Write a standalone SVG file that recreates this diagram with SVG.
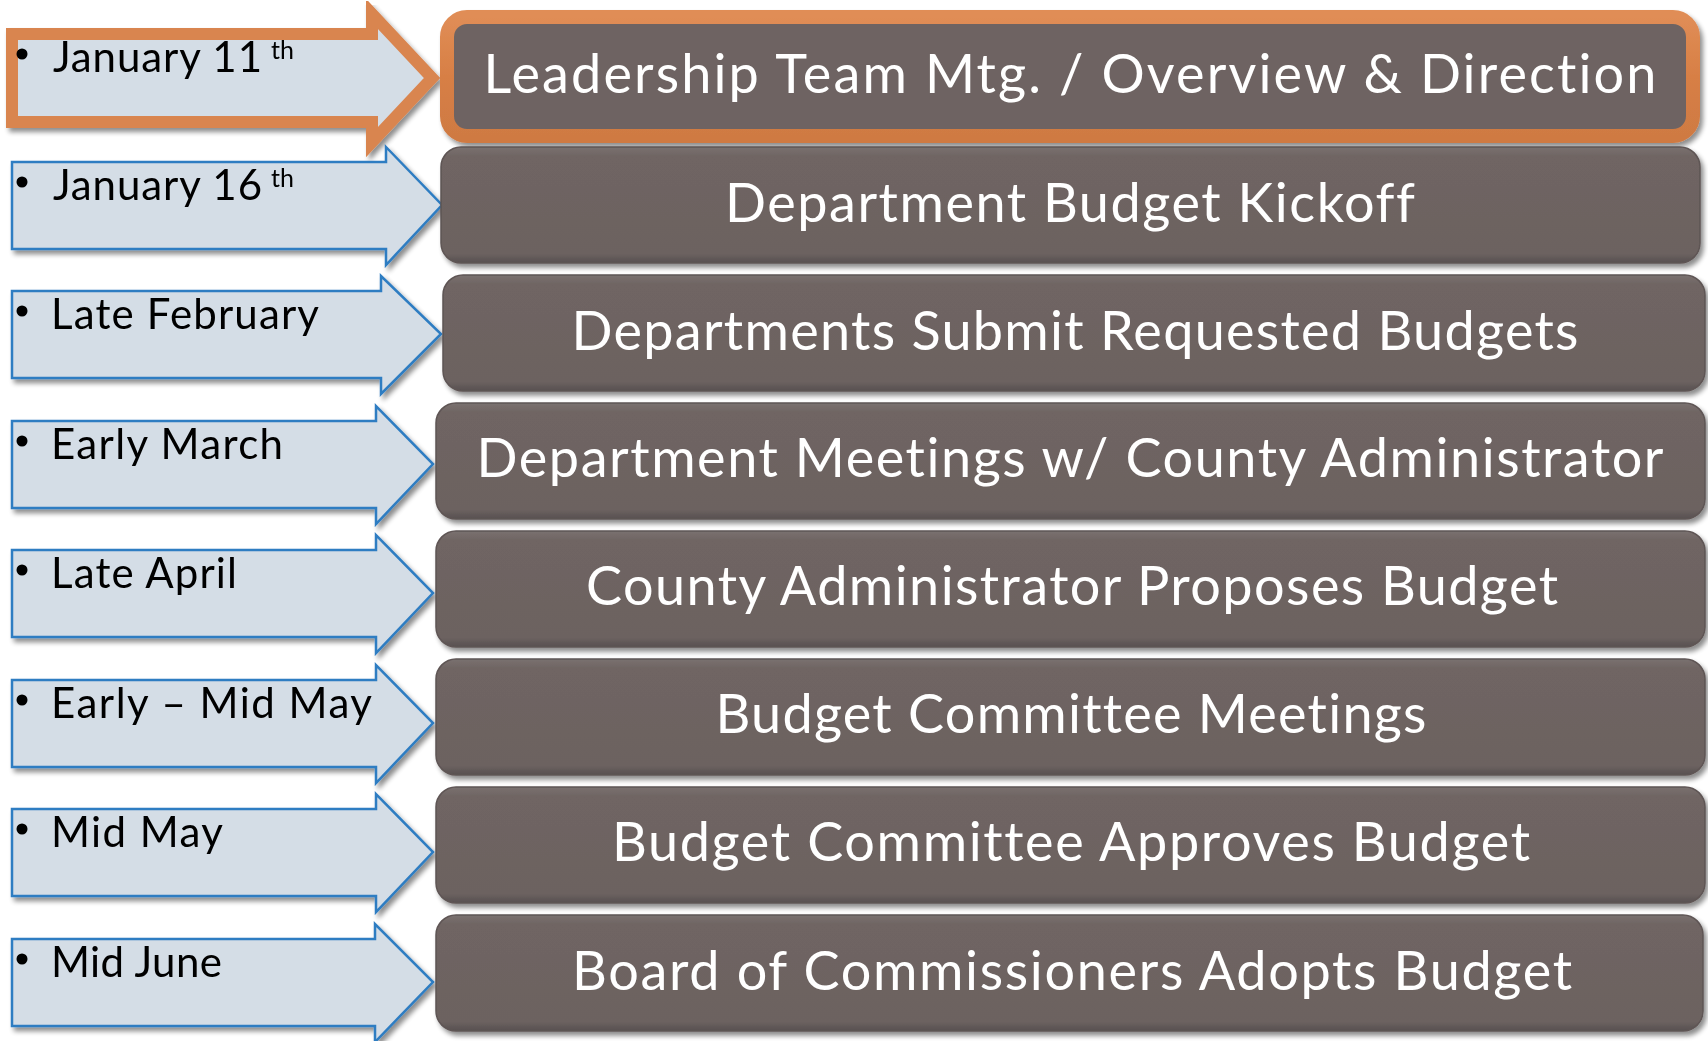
<svg xmlns="http://www.w3.org/2000/svg" width="1708" height="1041" viewBox="0 0 1708 1041">
<defs>
<filter id="sh" x="-5%" y="-10%" width="115%" height="130%">
<feGaussianBlur in="SourceAlpha" stdDeviation="2.5"/>
<feOffset dx="3" dy="4" result="b"/>
<feComponentTransfer><feFuncA type="linear" slope="0.45"/></feComponentTransfer>
<feMerge><feMergeNode/><feMergeNode in="SourceGraphic"/></feMerge>
</filter>
<linearGradient id="bev" x1="0" y1="0" x2="0" y2="1">
<stop offset="0" stop-color="#7a7170"/>
<stop offset="0.08" stop-color="#6f6563"/>
<stop offset="0.92" stop-color="#6c6260"/>
<stop offset="1" stop-color="#575050"/>
</linearGradient>
<linearGradient id="org" x1="0" y1="0" x2="0" y2="1">
<stop offset="0" stop-color="#e08d56"/>
<stop offset="0.5" stop-color="#d77f45"/>
<stop offset="1" stop-color="#cf7a43"/>
</linearGradient>
</defs>
<style>
text{font-variant-ligatures:none}
.arr{fill:#d4dde6;stroke:#2f7dc2;stroke-width:2.5;stroke-linejoin:miter}
.arr1{fill:#d4dde6;stroke:#d9854f;stroke-width:12;stroke-linejoin:miter}
.box{fill:url(#bev);stroke:#5e5554;stroke-width:1.5}
.lbl{font-family:Lato,"Liberation Sans",sans-serif;font-size:42px;fill:#000}
.sup{font-family:Lato,"Liberation Sans",sans-serif;font-size:25px;fill:#000}
.btxt{font-family:Lato,"Liberation Sans",sans-serif;font-size:54px;fill:#fff;text-anchor:middle}
.dot{fill:#000}
</style>
<g id="connectors">
<g id="arrow1" filter="url(#sh)">
<polygon class="arr1" points="12,34 372,34 372,14 432,78 372,142 372,122 12,122"/>
<circle class="dot" cx="22" cy="54" r="5.5"/>
<text class="lbl" x="53" y="72" textLength="209">January 11</text>
<text class="sup" x="271" y="59">th</text>
</g>
<g id="arrow2" filter="url(#sh)">
<polygon class="arr" points="12,162 386,162 386,147 442,205 386,265 386,249 12,249"/>
<circle class="dot" cx="22" cy="182" r="5.5"/>
<text class="lbl" x="53" y="200" textLength="209">January 16</text>
<text class="sup" x="271" y="187">th</text>
</g>
<g id="arrow3" filter="url(#sh)">
<polygon class="arr" points="12,291 381,291 381,276 441,334 381,394 381,378 12,378"/>
<circle class="dot" cx="22" cy="311" r="5.5"/>
<text class="lbl" x="51" y="329" textLength="268">Late February</text>
</g>
<g id="arrow4" filter="url(#sh)">
<polygon class="arr" points="12,421 376,421 376,406 433,464 376,524 376,508 12,508"/>
<circle class="dot" cx="22" cy="441" r="5.5"/>
<text class="lbl" x="51" y="459" textLength="232">Early March</text>
</g>
<g id="arrow5" filter="url(#sh)">
<polygon class="arr" points="12,550 376,550 376,535 433,593 376,653 376,637 12,637"/>
<circle class="dot" cx="22" cy="570" r="5.5"/>
<text class="lbl" x="51" y="588" textLength="186">Late April</text>
</g>
<g id="arrow6" filter="url(#sh)">
<polygon class="arr" points="12,680 376,680 376,665 433,723 376,783 376,767 12,767"/>
<circle class="dot" cx="22" cy="700" r="5.5"/>
<text class="lbl" x="51" y="718" textLength="321">Early – Mid May</text>
</g>
<g id="arrow7" filter="url(#sh)">
<polygon class="arr" points="12,809 376,809 376,794 433,852 376,912 376,896 12,896"/>
<circle class="dot" cx="22" cy="829" r="5.5"/>
<text class="lbl" x="51" y="847" textLength="172">Mid May</text>
</g>
<g id="arrow8" filter="url(#sh)">
<polygon class="arr" points="12,939 375,939 375,924 433,982 375,1042 375,1026 12,1026"/>
<circle class="dot" cx="22" cy="959" r="5.5"/>
<text class="lbl" x="51" y="977" textLength="171">Mid June</text>
</g>
</g>
<g id="box1" filter="url(#sh)">
<rect x="447" y="17" width="1246" height="119" rx="20" fill="#6e6462" stroke="url(#org)" stroke-width="14"/>
<text class="btxt" x="1070" y="93" textLength="1173">Leadership Team Mtg. / Overview &amp; Direction</text>
</g>
<g id="box2" filter="url(#sh)">
<rect class="box" x="441" y="147" width="1259" height="116" rx="20"/>
<text class="btxt" x="1070" y="222" textLength="690">Department Budget Kickoff</text>
</g>
<g id="box3" filter="url(#sh)">
<rect class="box" x="443" y="275" width="1262" height="116" rx="20"/>
<text class="btxt" x="1075" y="350" textLength="1007">Departments Submit Requested Budgets</text>
</g>
<g id="box4" filter="url(#sh)">
<rect class="box" x="436" y="403" width="1269" height="116" rx="20"/>
<text class="btxt" x="1070" y="477" textLength="1187">Department Meetings w/ County Administrator</text>
</g>
<g id="box5" filter="url(#sh)">
<rect class="box" x="436" y="531" width="1269" height="116" rx="20"/>
<text class="btxt" x="1072" y="605" textLength="972">County Administrator Proposes Budget</text>
</g>
<g id="box6" filter="url(#sh)">
<rect class="box" x="436" y="659" width="1269" height="116" rx="20"/>
<text class="btxt" x="1071" y="733" textLength="711">Budget Committee Meetings</text>
</g>
<g id="box7" filter="url(#sh)">
<rect class="box" x="436" y="787" width="1269" height="116" rx="20"/>
<text class="btxt" x="1071" y="861" textLength="918">Budget Committee Approves Budget</text>
</g>
<g id="box8" filter="url(#sh)">
<rect class="box" x="436" y="915" width="1267" height="116" rx="20"/>
<text class="btxt" x="1072" y="990" textLength="1000">Board of Commissioners Adopts Budget</text>
</g>
</svg>
